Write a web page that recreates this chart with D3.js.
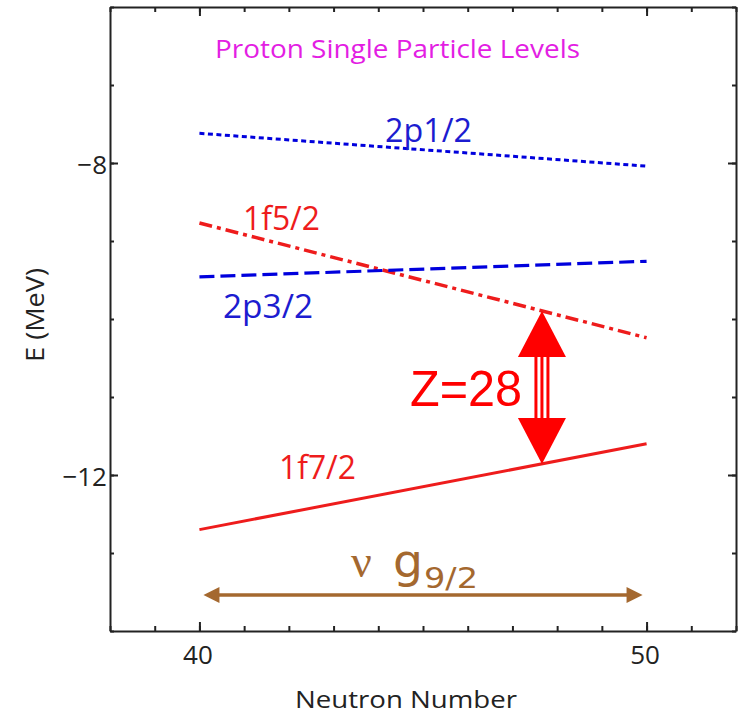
<!DOCTYPE html>
<html>
<head>
<meta charset="utf-8">
<script src="https://cdn.jsdelivr.net/npm/d3@7"></script>
<style>
  html, body { margin: 0; padding: 0; background: #fff; }
  svg { display: block; }
</style>
</head>
<body>
<svg id="chart" width="741" height="714"></svg>
<script>
// ---- data ----
const neutronNumbers = [40, 50];
const levelNames = ["2p1/2", "1f5/2", "2p3/2", "1f7/2"];
const level2p12 = [-7.62, -8.04];
const level1f52 = [-8.77, -10.24];
const level2p32 = [-9.46, -9.26];
const level1f72 = [-12.70, -11.60];
const xMajorTicks = [40, 50];
const yMajorTicks = [-8, -12];
const xMinorTicks = d3.range(38, 53, 1);
const yMinorTicks = d3.range(-14, -5, 1);
const gapArrowN = 47.66;      // neutron number where the Z=28 gap arrow sits
const nuArrowE = -13.54;      // energy of the nu g9/2 arrow
const nuArrowRange = [40, 50];

// ---- layout ----
const svg = d3.select("#chart");
const L = 110, R = 736, T = 7, B = 631;
const x = d3.scaleLinear().domain([38, 52]).range([L, R]);
const y = d3.scaleLinear().domain([-14, -6]).range([B, T]);

const red = "#ee1c1c", blue = "#0000dd", blueText = "#1c1cd0",
      magenta = "#e31ee3", brown = "#a4682f", axisCol = "#222";

// ---- axes ----
function styleAxis(g) {
  g.selectAll("path").attr("stroke", axisCol).attr("stroke-width", 2);
  g.selectAll("line").attr("stroke", axisCol).attr("stroke-width", 2);
  g.selectAll("text").attr("fill", "#222").attr("font-family", "Open Sans, sans-serif");
}
// bottom
svg.append("g").attr("transform", `translate(0,${B})`)
  .call(d3.axisBottom(x).tickValues(xMinorTicks).tickSize(-5).tickSizeOuter(0).tickFormat(""))
  .call(styleAxis);
svg.append("g").attr("transform", `translate(0,${B})`)
  .call(d3.axisBottom(x).tickValues(xMajorTicks).tickSize(-9).tickSizeOuter(0).tickPadding(15).tickFormat(d3.format("d")))
  .call(styleAxis)
  .call(g => g.select(".domain").remove())
  .call(g => g.selectAll("text").attr("font-size", 26).attr("dx", -2));
// top
svg.append("g").attr("transform", `translate(0,${T})`)
  .call(d3.axisTop(x).tickValues(xMinorTicks).tickSize(-5).tickSizeOuter(0).tickFormat(""))
  .call(styleAxis);
svg.append("g").attr("transform", `translate(0,${T})`)
  .call(d3.axisTop(x).tickValues(xMajorTicks).tickSize(-9).tickSizeOuter(0).tickFormat(""))
  .call(styleAxis)
  .call(g => g.select(".domain").remove());
// left
svg.append("g").attr("transform", `translate(${L},0)`)
  .call(d3.axisLeft(y).tickValues(yMinorTicks).tickSize(-4).tickSizeOuter(0).tickFormat(""))
  .call(styleAxis);
svg.append("g").attr("transform", `translate(${L},0)`)
  .call(d3.axisLeft(y).tickValues(yMajorTicks).tickSize(-8).tickSizeOuter(0).tickPadding(3).tickFormat(d3.format("d")))
  .call(styleAxis)
  .call(g => g.select(".domain").remove())
  .call(g => g.selectAll("text").attr("font-size", 26).attr("dy", "0.42em"));
// right
svg.append("g").attr("transform", `translate(${R},0)`)
  .call(d3.axisRight(y).tickValues(yMinorTicks).tickSize(-4).tickSizeOuter(0).tickFormat(""))
  .call(styleAxis);
svg.append("g").attr("transform", `translate(${R},0)`)
  .call(d3.axisRight(y).tickValues(yMajorTicks).tickSize(-8).tickSizeOuter(0).tickFormat(""))
  .call(styleAxis)
  .call(g => g.select(".domain").remove());

// axis titles
svg.append("text").attr("x", 406).attr("y", 708).attr("text-anchor", "middle")
  .attr("font-family", "Open Sans, sans-serif").attr("font-size", 24).attr("fill", "#222")
  .attr("textLength", 222).attr("lengthAdjust", "spacingAndGlyphs")
  .text("Neutron Number");
svg.append("text").attr("transform", "translate(44,315) rotate(-90)").attr("text-anchor", "middle")
  .attr("font-family", "Open Sans, sans-serif").attr("font-size", 25).attr("fill", "#222")
  .attr("textLength", 94).attr("lengthAdjust", "spacingAndGlyphs")
  .text("E (MeV)");

// title
svg.append("text").attr("x", 215).attr("y", 58)
  .attr("font-family", "Open Sans, sans-serif").attr("font-size", 26).attr("fill", magenta)
  .attr("textLength", 365).attr("lengthAdjust", "spacingAndGlyphs")
  .text("Proton Single Particle Levels");

// ---- level lines ----
const levels = [
  { name: levelNames[0], vals: level2p12, color: blue, dash: "5,3.5", w: 3 },
  { name: levelNames[1], vals: level1f52, color: red, dash: "13,5,4,5", w: 3.5 },
  { name: levelNames[2], vals: level2p32, color: blue, dash: "15,6", w: 3.2 },
  { name: levelNames[3], vals: level1f72, color: red, dash: null, w: 3 }
];
const line = d3.line().x(d => x(d[0])).y(d => y(d[1]));
levels.forEach(lv => {
  svg.append("path")
    .datum(neutronNumbers.map((n, i) => [n, lv.vals[i]]))
    .attr("d", line).attr("fill", "none")
    .attr("stroke", lv.color).attr("stroke-width", lv.w)
    .attr("stroke-dasharray", lv.dash);
});

// level labels
const labelFont = "Open Sans, sans-serif";
[
  { t: levelNames[0], px: 385, py: 142, c: blueText, w: 87 },
  { t: levelNames[1], px: 243, py: 230, c: red, w: 77 },
  { t: levelNames[2], px: 223, py: 318, c: blueText, w: 90 },
  { t: levelNames[3], px: 279, py: 479, c: red, w: 77 }
].forEach(l => {
  svg.append("text").attr("x", l.px).attr("y", l.py)
    .attr("font-family", labelFont).attr("font-size", 32).attr("fill", l.c)
    .attr("textLength", l.w).attr("lengthAdjust", "spacingAndGlyphs")
    .text(l.t);
});

// ---- Z=28 gap arrow ----
const interp = (vals, n) => vals[0] + (vals[1] - vals[0]) * (n - neutronNumbers[0]) / (neutronNumbers[1] - neutronNumbers[0]);
const ax = x(gapArrowN);
const yTop = y(interp(level1f52, gapArrowN));
const yBot = y(interp(level1f72, gapArrowN));
const headL = 46, headW = 24;
const zRed = "#ff0000";
svg.append("path")
  .attr("d", `M${ax},${yTop} L${ax + headW},${yTop + headL} L${ax - headW},${yTop + headL} Z`)
  .attr("fill", zRed);
svg.append("path")
  .attr("d", `M${ax},${yBot} L${ax + headW},${yBot - headL} L${ax - headW},${yBot - headL} Z`)
  .attr("fill", zRed);
[-6, 0, 6].forEach(off => {
  svg.append("line")
    .attr("x1", ax + off).attr("x2", ax + off)
    .attr("y1", yTop + headL - 1).attr("y2", yBot - headL + 1)
    .attr("stroke", zRed).attr("stroke-width", 3);
});
svg.append("text").attr("x", 410).attr("y", 406)
  .attr("font-family", "Liberation Sans, Arial, sans-serif").attr("font-size", 50).attr("fill", zRed)
  .attr("textLength", 112).attr("lengthAdjust", "spacingAndGlyphs")
  .text("Z=28");

// ---- nu g9/2 arrow ----
const by = y(nuArrowE);
const bx1 = x(nuArrowRange[0]) + 4, bx2 = x(nuArrowRange[1]) - 4;
const bh = 16, bw = 8;
svg.append("line").attr("x1", bx1 + bh - 2).attr("x2", bx2 - bh + 2)
  .attr("y1", by).attr("y2", by).attr("stroke", brown).attr("stroke-width", 3.5);
svg.append("path").attr("d", `M${bx1},${by} L${bx1 + bh},${by - bw} L${bx1 + bh},${by + bw} Z`).attr("fill", brown);
svg.append("path").attr("d", `M${bx2},${by} L${bx2 - bh},${by - bw} L${bx2 - bh},${by + bw} Z`).attr("fill", brown);

svg.append("text").attr("x", 351).attr("y", 577)
  .attr("font-family", "Liberation Serif, serif").attr("font-size", 46).attr("fill", brown)
  .text("ν");
svg.append("text").attr("x", 393).attr("y", 577)
  .attr("font-family", "DejaVu Sans, sans-serif").attr("font-size", 46).attr("fill", brown)
  .attr("textLength", 30).attr("lengthAdjust", "spacingAndGlyphs")
  .text("g");
svg.append("text").attr("x", 424).attr("y", 588)
  .attr("font-family", "DejaVu Sans, sans-serif").attr("font-size", 29).attr("fill", brown)
  .attr("textLength", 54).attr("lengthAdjust", "spacingAndGlyphs")
  .text("9/2");
</script>
</body>
</html>
